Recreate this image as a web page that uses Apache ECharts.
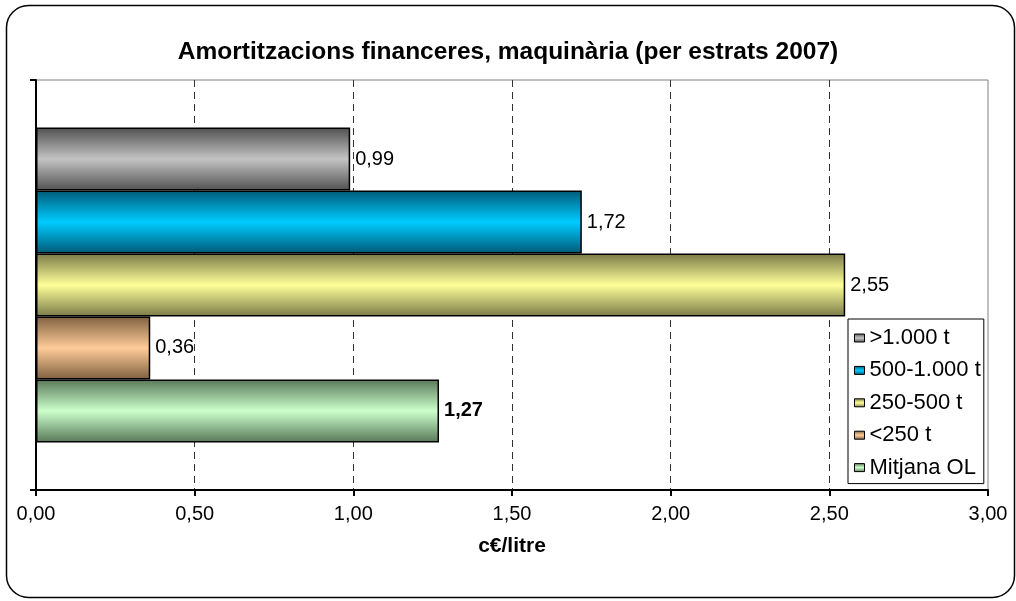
<!DOCTYPE html>
<html>
<head>
<meta charset="utf-8">
<script src="https://cdn.jsdelivr.net/npm/echarts@6/dist/echarts.min.js"></script>
<style>
  html, body { margin: 0; padding: 0; background: #fff; }
  #chart { width: 1016px; height: 601px; }
</style>
</head>
<body>
<div id="chart"></div>
<script>
// dades (c€/litre)
const seriesNames = [">1.000 t", "500-1.000 t", "250-500 t", "<250 t", "Mitjana OL"];
const seriesValues = [0.99, 1.72, 2.55, 0.36, 1.27];
const xTicks = [0, 0.5, 1, 1.5, 2, 2.5, 3];
// degradat: vora fosca, centre clar
const darkColors = ["#505050", "#005a78", "#7a7a48", "#806040", "#587858"];
const lightColors = ["#c4c4c4", "#00ccff", "#ffff99", "#ffcc99", "#ccffcc"];

const fontFam = "Liberation Sans, Arial, sans-serif";

let chart = echarts.init(document.getElementById("chart"));

let grad = (i) => ({
  type: "linear", x: 0, y: 0, x2: 0, y2: 1,
  colorStops: [
    { offset: 0, color: darkColors[i] },
    { offset: 0.5, color: lightColors[i] },
    { offset: 1, color: darkColors[i] },
  ],
});

let option = {
  animation: false,
  backgroundColor: "#fff",
  title: {
    text: "Amortitzacions financeres, maquinària (per estrats 2007)",
    left: "center",
    top: 35,
    textStyle: { fontFamily: fontFam, fontSize: 24.5, fontWeight: "bold", color: "#000" },
  },
  legend: {
    orient: "vertical",
    left: 848,
    top: 319,
    padding: [8, 3, 5, 6],
    borderColor: "#000",
    borderWidth: 1,
    backgroundColor: "#fff",
    itemWidth: 10,
    itemHeight: 8,
    itemGap: 10.4,
    icon: "rect",
    data: seriesNames,
    textStyle: { fontFamily: fontFam, fontSize: 22, color: "#000" },
    itemStyle: { borderColor: "#000", borderWidth: 1 },
  },
  grid: {
    left: 36,
    right: 28,
    top: 80,
    bottom: 111,
    show: true,
    borderColor: "#808080",
    borderWidth: 1,
    backgroundColor: "#fff",
  },
  xAxis: {
    type: "value",
    min: xTicks[0],
    max: xTicks[xTicks.length - 1],
    interval: 0.5,
    name: "c€/litre",
    nameLocation: "middle",
    nameGap: 46,
    nameTextStyle: { fontFamily: fontFam, fontSize: 21, fontWeight: "bold", color: "#000" },
    axisLine: { show: true, lineStyle: { color: "#000", width: 2 } },
    axisTick: { show: true, length: 6, lineStyle: { color: "#000", width: 2 } },
    axisLabel: {
      margin: 14,
      fontFamily: fontFam,
      fontSize: 20,
      color: "#000",
      formatter: (v) => v.toFixed(2).replace(".", ","),
    },
    splitLine: {
      show: true,
      showMinLine: false,
      showMaxLine: false,
      lineStyle: { color: "#333", type: [7, 5], width: 1 },
    },
  },
  yAxis: {
    type: "category",
    inverse: true,
    data: [""],
    axisLine: { show: true, lineStyle: { color: "#000", width: 2 } },
    axisTick: { show: true, length: 6, lineStyle: { color: "#000", width: 2 } },
    axisLabel: { show: false },
  },
  series: seriesNames.map((name, i) => ({
    name: name,
    type: "bar",
    barGap: "0%",
    barCategoryGap: "23.2%",
    data: [seriesValues[i]],
    itemStyle: { color: grad(i), borderColor: "#000", borderWidth: 1.5 },
    label: {
      show: true,
      position: "right",
      distance: 5,
      fontFamily: fontFam,
      fontSize: 20,
      color: "#000",
      fontWeight: i === 4 ? "bold" : "normal",
      formatter: (p) => p.value.toFixed(2).replace(".", ","),
    },
  })),
  graphic: [
    {
      type: "rect",
      z: 100,
      silent: true,
      shape: { x: 6.5, y: 5.5, width: 1008, height: 592, r: 22 },
      style: { fill: null, stroke: "#000", lineWidth: 1.5 },
    },
  ],
};

chart.setOption(option);
</script>
</body>
</html>
